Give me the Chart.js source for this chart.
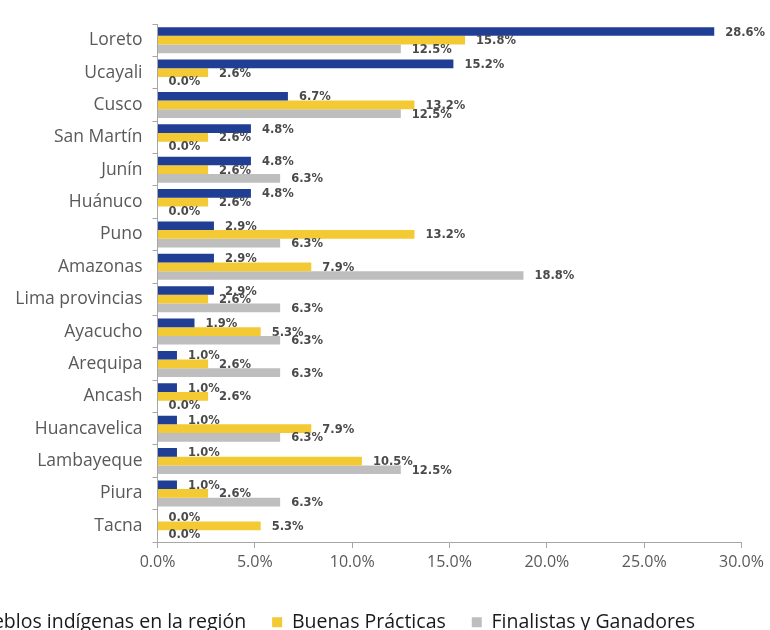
<!DOCTYPE html>
<html>
<head>
<meta charset="utf-8">
<script src="https://cdn.jsdelivr.net/npm/chart.js@4.4.1/dist/chart.umd.min.js"></script>
<style>
  html, body { margin: 0; padding: 0; background: #fff; overflow: hidden; width: 770px; height: 630px; }
  #wrap { position: absolute; top: 0; }
</style>
</head>
<body>
<div id="wrap"><canvas id="regiones"></canvas></div>
<script>
const regiones = ["Loreto", "Ucayali", "Cusco", "San Martín", "Junín", "Huánuco", "Puno", "Amazonas",
  "Lima provincias", "Ayacucho", "Arequipa", "Ancash", "Huancavelica", "Lambayeque", "Piura", "Tacna"];
const pueblosIndigenas = [28.6, 15.2, 6.7, 4.8, 4.8, 4.8, 2.9, 2.9, 2.9, 1.9, 1.0, 1.0, 1.0, 1.0, 1.0, 0.0];
const buenasPracticas = [15.8, 2.6, 13.2, 2.6, 2.6, 2.6, 13.2, 7.9, 2.6, 5.3, 2.6, 2.6, 7.9, 10.5, 2.6, 5.3];
const finalistas = [12.5, 0.0, 12.5, 0.0, 6.3, 0.0, 6.3, 18.8, 6.3, 6.3, 6.3, 0.0, 6.3, 12.5, 6.3, 0.0];
const xTicks = [0, 5, 10, 15, 20, 25, 30];
const seriesNames = ["Comunidades de pueblos indígenas en la región", "Buenas Prácticas", "Finalistas y Ganadores"];
const seriesColors = ["#203e93", "#f3c934", "#bebebe"];

// layout (page pixels)
const plotLeft = 157.5, plotRight = 741.5, plotTop = 24, plotBottom = 542;
const legendFont = { family: "'Open Sans'", size: 19.5 };
const legendGap = 26, legendBox = 10;
const legendEnd = 695;        // where the last legend label ends
const legendMiddle = 622.5;   // vertical centre of the legend row

// the legend row is wider than the page: it is centred on a wider canvas
// that is shifted left, so its first entry runs off the left edge
const m = document.createElement('canvas').getContext('2d');
m.font = legendFont.size + 'px ' + legendFont.family;
const itemsW = seriesNames.reduce((s, n) => s + legendBox + legendFont.size / 2 + m.measureText(n).width, 0);
const shift = Math.round(itemsW + 2 * legendGap - (2 * legendEnd - plotRight));
const canvasW = shift + 770;
const legendH = legendFont.size + legendGap + 10;
const canvasH = Math.round(legendMiddle + legendFont.size / 2 + 10);

const canvas = document.getElementById('regiones');
canvas.width = canvasW;
canvas.height = canvasH;
document.getElementById('wrap').style.left = (-shift) + 'px';

// value labels to the right of each bar
const barLabels = {
  id: 'barLabels',
  afterDatasetsDraw(chart) {
    const ctx = chart.ctx;
    ctx.save();
    ctx.font = "bold 11.5px 'DejaVu Sans'";
    ctx.fillStyle = '#4a4a4a';
    ctx.textBaseline = 'middle';
    chart.data.datasets.forEach((ds, i) => {
      chart.getDatasetMeta(i).data.forEach((bar, j) => {
        ctx.fillText(ds.data[j].toFixed(1) + '%', bar.x + 11, bar.y + 1);
      });
    });
    ctx.restore();
  }
};

const axisColor = '#a6a6a6';

new Chart(canvas, {
  type: 'bar',
  data: {
    labels: regiones,
    datasets: [pueblosIndigenas, buenasPracticas, finalistas].map((d, i) => ({
      label: seriesNames[i],
      data: d,
      backgroundColor: seriesColors[i],
      borderWidth: 0,
      categoryPercentage: 0.8,
      barPercentage: 1.0
    }))
  },
  options: {
    indexAxis: 'y',
    responsive: false,
    animation: false,
    layout: { padding: { top: plotTop, left: 0, bottom: 0, right: canvasW - shift - plotRight } },
    scales: {
      x: {
        min: 0,
        max: 30,
        afterBuildTicks: s => { s.ticks = xTicks.map(v => ({ value: v })); },
        afterFit: s => { s.height = canvasH - legendH - plotBottom; s.paddingLeft = 0; s.paddingRight = 0; },
        grid: { drawOnChartArea: false, tickLength: 6, color: axisColor },
        border: { color: axisColor },
        ticks: {
          padding: 5,
          color: '#595959',
          font: { family: "'Open Sans'", size: 16 },
          callback: v => v.toFixed(1) + '%'
        }
      },
      y: {
        afterFit: s => { s.width = plotLeft + shift; s.paddingTop = 0; s.paddingBottom = 0; },
        grid: { drawOnChartArea: false, tickLength: 5, color: axisColor },
        border: { color: axisColor },
        ticks: {
          padding: 10,
          color: '#595959',
          font: { family: "'Open Sans'", size: 17.5 }
        }
      }
    },
    plugins: {
      tooltip: { enabled: false },
      legend: {
        position: 'bottom',
        labels: {
          boxWidth: legendBox,
          boxHeight: legendBox,
          padding: legendGap,
          color: '#1a1a1a',
          font: legendFont
        }
      }
    }
  },
  plugins: [barLabels]
});
</script>
</body>
</html>
